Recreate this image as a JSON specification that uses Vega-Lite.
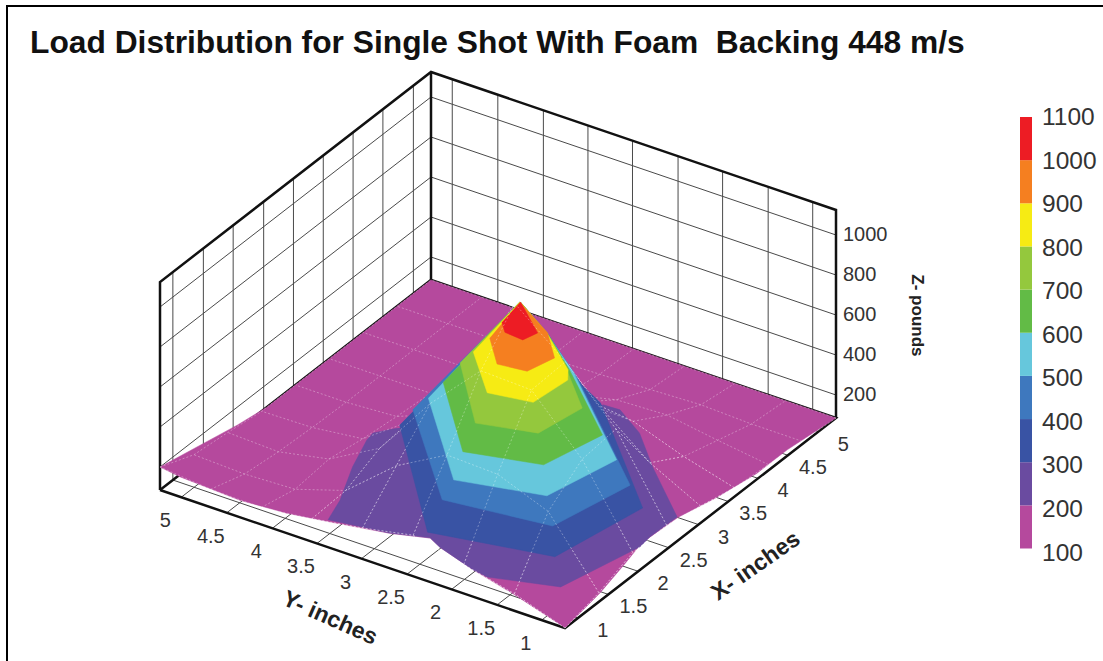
{"$schema":"https://vega.github.io/schema/vega-lite/v6.json","width":1100,"height":660,"autosize":{"type":"none"},"padding":{"left":7,"top":6,"right":0,"bottom":0},"background":"white","config":{"font":"Liberation Sans","view":{"stroke":"#000000","strokeWidth":2,"fill":"white"}},"title":{"text":"Load Distribution for Single Shot With Foam\u00a0 Backing 448 m/s","anchor":"start","frame":"group","dx":23,"dy":54,"offset":0,"fontSize":31.75,"fontWeight":"bold","font":"Liberation Sans","color":"#111111"},
"datasets":{
"surface":[
{"level":100,"i":0,"X":1,"Y":1,"Z":85},{"level":100,"i":1,"X":1.52,"Y":1,"Z":125},{"level":100,"i":2,"X":1.89,"Y":1,"Z":175},{"level":100,"i":3,"X":2.11,"Y":1,"Z":210},{"level":100,"i":4,"X":2.26,"Y":1,"Z":210},{"level":100,"i":5,"X":2.67,"Y":1,"Z":200},{"level":100,"i":6,"X":3.24,"Y":1,"Z":150},{"level":100,"i":7,"X":3.83,"Y":1,"Z":115},{"level":100,"i":8,"X":4.28,"Y":1,"Z":115},{"level":100,"i":9,"X":5,"Y":1,"Z":85},{"level":100,"i":10,"X":5,"Y":5,"Z":85},{"level":100,"i":11,"X":2.58,"Y":5,"Z":85},{"level":100,"i":12,"X":2.14,"Y":5,"Z":110},{"level":100,"i":13,"X":1,"Y":5,"Z":200},{"level":100,"i":14,"X":1,"Y":4.8,"Z":185},{"level":100,"i":15,"X":1,"Y":4.21,"Z":170},{"level":100,"i":16,"X":1,"Y":3.75,"Z":185},{"level":100,"i":17,"X":1,"Y":3.32,"Z":215},{"level":100,"i":18,"X":1,"Y":2.73,"Z":260},{"level":100,"i":19,"X":1,"Y":2.33,"Z":305},{"level":100,"i":20,"X":1,"Y":2.23,"Z":275},{"level":100,"i":21,"X":1,"Y":1.91,"Z":220},{"level":100,"i":22,"X":1,"Y":1.57,"Z":175},
{"level":200,"i":0,"X":2.58,"Y":3.72,"Z":200},{"level":200,"i":1,"X":2.41,"Y":3.84,"Z":200},{"level":200,"i":2,"X":2.29,"Y":3.82,"Z":200},{"level":200,"i":3,"X":1.87,"Y":3.68,"Z":200},{"level":200,"i":4,"X":1.37,"Y":3.47,"Z":200},{"level":200,"i":5,"X":1.06,"Y":3.38,"Z":200},{"level":200,"i":6,"X":1.16,"Y":2.84,"Z":200},{"level":200,"i":7,"X":1.28,"Y":2.52,"Z":200},{"level":200,"i":8,"X":1.2,"Y":2.37,"Z":200},{"level":200,"i":9,"X":1.05,"Y":1.94,"Z":200},{"level":200,"i":10,"X":1.02,"Y":1.78,"Z":200},{"level":200,"i":11,"X":1.22,"Y":1.19,"Z":200},{"level":200,"i":12,"X":2.11,"Y":1,"Z":200},{"level":200,"i":13,"X":2.28,"Y":1.02,"Z":200},{"level":200,"i":14,"X":2.67,"Y":1.01,"Z":200},{"level":200,"i":15,"X":3.22,"Y":1.62,"Z":200},{"level":200,"i":16,"X":3.61,"Y":2.01,"Z":200},{"level":200,"i":17,"X":3.83,"Y":2.35,"Z":200},{"level":200,"i":18,"X":3.82,"Y":2.51,"Z":200},
{"level":300,"i":0,"X":4.54,"Y":3.81,"Z":300},{"level":300,"i":1,"X":4.25,"Y":3.35,"Z":300},{"level":300,"i":2,"X":3.93,"Y":2.93,"Z":300},{"level":300,"i":3,"X":3.72,"Y":2.65,"Z":300},{"level":300,"i":4,"X":3.57,"Y":2.37,"Z":300},{"level":300,"i":5,"X":3.03,"Y":1.82,"Z":300},{"level":300,"i":6,"X":2.37,"Y":1.15,"Z":300},{"level":300,"i":7,"X":1.33,"Y":1.32,"Z":300},{"level":300,"i":8,"X":1.08,"Y":2.41,"Z":300},{"level":300,"i":9,"X":2.37,"Y":3.55,"Z":300},
{"level":400,"i":0,"X":4.28,"Y":3.64,"Z":400},{"level":400,"i":1,"X":3.99,"Y":3.18,"Z":400},{"level":400,"i":2,"X":3.53,"Y":2.57,"Z":400},{"level":400,"i":3,"X":2.35,"Y":1.26,"Z":400},{"level":400,"i":4,"X":1.46,"Y":1.43,"Z":400},{"level":400,"i":5,"X":1.31,"Y":2.42,"Z":400},{"level":400,"i":6,"X":2.37,"Y":3.42,"Z":400},
{"level":500,"i":0,"X":4.01,"Y":3.46,"Z":500},{"level":500,"i":1,"X":3.72,"Y":3,"Z":500},{"level":500,"i":2,"X":3.33,"Y":2.48,"Z":500},{"level":500,"i":3,"X":2.36,"Y":1.4,"Z":500},{"level":500,"i":4,"X":1.57,"Y":1.56,"Z":500},{"level":500,"i":5,"X":1.36,"Y":2.34,"Z":500},{"level":500,"i":6,"X":2.33,"Y":3.24,"Z":500},
{"level":600,"i":0,"X":3.75,"Y":3.28,"Z":600},{"level":600,"i":1,"X":3.46,"Y":2.82,"Z":600},{"level":600,"i":2,"X":3.07,"Y":2.34,"Z":600},{"level":600,"i":3,"X":2.36,"Y":1.54,"Z":600},{"level":600,"i":4,"X":1.7,"Y":1.68,"Z":600},{"level":600,"i":5,"X":1.51,"Y":2.35,"Z":600},{"level":600,"i":6,"X":2.34,"Y":3.1,"Z":600},
{"level":700,"i":0,"X":3.48,"Y":3.11,"Z":700},{"level":700,"i":1,"X":3.19,"Y":2.65,"Z":700},{"level":700,"i":2,"X":2.85,"Y":2.24,"Z":700},{"level":700,"i":3,"X":2.36,"Y":1.74,"Z":700},{"level":700,"i":4,"X":1.83,"Y":1.82,"Z":700},{"level":700,"i":5,"X":1.68,"Y":2.34,"Z":700},{"level":700,"i":6,"X":2.41,"Y":2.98,"Z":700},
{"level":800,"i":0,"X":3.22,"Y":2.93,"Z":800},{"level":800,"i":1,"X":2.93,"Y":2.47,"Z":800},{"level":800,"i":2,"X":2.54,"Y":2,"Z":800},{"level":800,"i":3,"X":2.4,"Y":1.91,"Z":800},{"level":800,"i":4,"X":1.95,"Y":1.95,"Z":800},{"level":800,"i":5,"X":1.87,"Y":2.35,"Z":800},{"level":800,"i":6,"X":2.35,"Y":2.81,"Z":800},
{"level":900,"i":0,"X":2.95,"Y":2.75,"Z":900},{"level":900,"i":1,"X":2.67,"Y":2.29,"Z":900},{"level":900,"i":2,"X":2.37,"Y":2.02,"Z":900},{"level":900,"i":3,"X":2.07,"Y":2.09,"Z":900},{"level":900,"i":4,"X":2.03,"Y":2.36,"Z":900},{"level":900,"i":5,"X":2.34,"Y":2.64,"Z":900},
{"level":1000,"i":0,"X":2.69,"Y":2.57,"Z":1000},{"level":1000,"i":1,"X":2.36,"Y":2.18,"Z":1000},{"level":1000,"i":2,"X":2.2,"Y":2.22,"Z":1000},{"level":1000,"i":3,"X":2.22,"Y":2.41,"Z":1000},{"level":1000,"i":4,"X":2.34,"Y":2.52,"Z":1000}
],
"mesh":[
{"X":1,"Y":1,"Z":85},{"X":1,"Y":1.5,"Z":170},{"X":1,"Y":2,"Z":230},{"X":1,"Y":2.5,"Z":290},{"X":1,"Y":3,"Z":240},{"X":1,"Y":3.5,"Z":200},{"X":1,"Y":4,"Z":170},{"X":1,"Y":4.5,"Z":175},{"X":1,"Y":5,"Z":200},
{"X":1.5,"Y":1,"Z":130},{"X":1.5,"Y":1.5,"Z":450},{"X":1.5,"Y":2,"Z":550},{"X":1.5,"Y":2.5,"Z":560},{"X":1.5,"Y":3,"Z":420},{"X":1.5,"Y":3.5,"Z":210},{"X":1.5,"Y":4,"Z":130},{"X":1.5,"Y":4.5,"Z":120},{"X":1.5,"Y":5,"Z":130},
{"X":2,"Y":1,"Z":200},{"X":2,"Y":1.5,"Z":580},{"X":2,"Y":2,"Z":840},{"X":2,"Y":2.5,"Z":850},{"X":2,"Y":3,"Z":600},{"X":2,"Y":3.5,"Z":290},{"X":2,"Y":4,"Z":150},{"X":2,"Y":4.5,"Z":100},{"X":2,"Y":5,"Z":110},
{"X":2.5,"Y":1,"Z":205},{"X":2.5,"Y":1.5,"Z":600},{"X":2.5,"Y":2,"Z":850},{"X":2.5,"Y":2.5,"Z":1055},{"X":2.5,"Y":3,"Z":600},{"X":2.5,"Y":3.5,"Z":300},{"X":2.5,"Y":4,"Z":120},{"X":2.5,"Y":4.5,"Z":90},{"X":2.5,"Y":5,"Z":85},
{"X":3,"Y":1,"Z":170},{"X":3,"Y":1.5,"Z":300},{"X":3,"Y":2,"Z":500},{"X":3,"Y":2.5,"Z":540},{"X":3,"Y":3,"Z":320},{"X":3,"Y":3.5,"Z":200},{"X":3,"Y":4,"Z":100},{"X":3,"Y":4.5,"Z":85},{"X":3,"Y":5,"Z":85},
{"X":3.5,"Y":1,"Z":130},{"X":3.5,"Y":1.5,"Z":200},{"X":3.5,"Y":2,"Z":290},{"X":3.5,"Y":2.5,"Z":300},{"X":3.5,"Y":3,"Z":200},{"X":3.5,"Y":3.5,"Z":110},{"X":3.5,"Y":4,"Z":85},{"X":3.5,"Y":4.5,"Z":85},{"X":3.5,"Y":5,"Z":85},
{"X":4,"Y":1,"Z":115},{"X":4,"Y":1.5,"Z":150},{"X":4,"Y":2,"Z":190},{"X":4,"Y":2.5,"Z":180},{"X":4,"Y":3,"Z":120},{"X":4,"Y":3.5,"Z":90},{"X":4,"Y":4,"Z":85},{"X":4,"Y":4.5,"Z":85},{"X":4,"Y":5,"Z":85},
{"X":4.5,"Y":1,"Z":100},{"X":4.5,"Y":1.5,"Z":100},{"X":4.5,"Y":2,"Z":110},{"X":4.5,"Y":2.5,"Z":100},{"X":4.5,"Y":3,"Z":90},{"X":4.5,"Y":3.5,"Z":85},{"X":4.5,"Y":4,"Z":85},{"X":4.5,"Y":4.5,"Z":85},{"X":4.5,"Y":5,"Z":85},
{"X":5,"Y":1,"Z":85},{"X":5,"Y":1.5,"Z":85},{"X":5,"Y":2,"Z":85},{"X":5,"Y":2.5,"Z":85},{"X":5,"Y":3,"Z":85},{"X":5,"Y":3.5,"Z":85},{"X":5,"Y":4,"Z":85},{"X":5,"Y":4.5,"Z":85},{"X":5,"Y":5,"Z":85}
],
"grid":[
{"id":"a1","i":0,"X":1.19,"Y":5,"Z":85},{"id":"a1","i":1,"X":1.19,"Y":5,"Z":1125},{"id":"a2","i":0,"X":1.64,"Y":5,"Z":85},{"id":"a2","i":1,"X":1.64,"Y":5,"Z":1125},{"id":"a3","i":0,"X":2.08,"Y":5,"Z":85},{"id":"a3","i":1,"X":2.08,"Y":5,"Z":1125},{"id":"a4","i":0,"X":2.53,"Y":5,"Z":85},{"id":"a4","i":1,"X":2.53,"Y":5,"Z":1125},{"id":"a5","i":0,"X":2.97,"Y":5,"Z":85},{"id":"a5","i":1,"X":2.97,"Y":5,"Z":1125},{"id":"a6","i":0,"X":3.41,"Y":5,"Z":85},{"id":"a6","i":1,"X":3.41,"Y":5,"Z":1125},{"id":"a7","i":0,"X":3.85,"Y":5,"Z":85},{"id":"a7","i":1,"X":3.85,"Y":5,"Z":1125},{"id":"a8","i":0,"X":4.29,"Y":5,"Z":85},{"id":"a8","i":1,"X":4.29,"Y":5,"Z":1125},{"id":"a9","i":0,"X":4.74,"Y":5,"Z":85},{"id":"a9","i":1,"X":4.74,"Y":5,"Z":1125},
{"id":"b1","i":0,"X":5,"Y":1.23,"Z":85},{"id":"b1","i":1,"X":5,"Y":1.23,"Z":1125},{"id":"b2","i":0,"X":5,"Y":1.67,"Z":85},{"id":"b2","i":1,"X":5,"Y":1.67,"Z":1125},{"id":"b3","i":0,"X":5,"Y":2.12,"Z":85},{"id":"b3","i":1,"X":5,"Y":2.12,"Z":1125},{"id":"b4","i":0,"X":5,"Y":2.56,"Z":85},{"id":"b4","i":1,"X":5,"Y":2.56,"Z":1125},{"id":"b5","i":0,"X":5,"Y":3.01,"Z":85},{"id":"b5","i":1,"X":5,"Y":3.01,"Z":1125},{"id":"b6","i":0,"X":5,"Y":3.45,"Z":85},{"id":"b6","i":1,"X":5,"Y":3.45,"Z":1125},{"id":"b7","i":0,"X":5,"Y":3.89,"Z":85},{"id":"b7","i":1,"X":5,"Y":3.89,"Z":1125},{"id":"b8","i":0,"X":5,"Y":4.34,"Z":85},{"id":"b8","i":1,"X":5,"Y":4.34,"Z":1125},{"id":"b9","i":0,"X":5,"Y":4.79,"Z":85},{"id":"b9","i":1,"X":5,"Y":4.79,"Z":1125},
{"id":"c1","i":0,"X":1,"Y":5,"Z":200},{"id":"c1","i":1,"X":5,"Y":5,"Z":200},{"id":"c1","i":2,"X":5,"Y":1,"Z":200},{"id":"c2","i":0,"X":1,"Y":5,"Z":400},{"id":"c2","i":1,"X":5,"Y":5,"Z":400},{"id":"c2","i":2,"X":5,"Y":1,"Z":400},{"id":"c3","i":0,"X":1,"Y":5,"Z":600},{"id":"c3","i":1,"X":5,"Y":5,"Z":600},{"id":"c3","i":2,"X":5,"Y":1,"Z":600},{"id":"c4","i":0,"X":1,"Y":5,"Z":800},{"id":"c4","i":1,"X":5,"Y":5,"Z":800},{"id":"c4","i":2,"X":5,"Y":1,"Z":800},{"id":"c5","i":0,"X":1,"Y":5,"Z":1000},{"id":"c5","i":1,"X":5,"Y":5,"Z":1000},{"id":"c5","i":2,"X":5,"Y":1,"Z":1000},
{"id":"d1","i":0,"X":1.19,"Y":1,"Z":85},{"id":"d1","i":1,"X":1.19,"Y":5,"Z":85},{"id":"d2","i":0,"X":1.64,"Y":1,"Z":85},{"id":"d2","i":1,"X":1.64,"Y":5,"Z":85},{"id":"d3","i":0,"X":2.08,"Y":1,"Z":85},{"id":"d3","i":1,"X":2.08,"Y":5,"Z":85},{"id":"d4","i":0,"X":2.53,"Y":1,"Z":85},{"id":"d4","i":1,"X":2.53,"Y":5,"Z":85},{"id":"d5","i":0,"X":2.97,"Y":1,"Z":85},{"id":"d5","i":1,"X":2.97,"Y":5,"Z":85},{"id":"d6","i":0,"X":3.41,"Y":1,"Z":85},{"id":"d6","i":1,"X":3.41,"Y":5,"Z":85},{"id":"d7","i":0,"X":3.85,"Y":1,"Z":85},{"id":"d7","i":1,"X":3.85,"Y":5,"Z":85},{"id":"d8","i":0,"X":4.29,"Y":1,"Z":85},{"id":"d8","i":1,"X":4.29,"Y":5,"Z":85},{"id":"d9","i":0,"X":4.74,"Y":1,"Z":85},{"id":"d9","i":1,"X":4.74,"Y":5,"Z":85},
{"id":"e1","i":0,"X":1,"Y":1.23,"Z":85},{"id":"e1","i":1,"X":5,"Y":1.23,"Z":85},{"id":"e2","i":0,"X":1,"Y":1.67,"Z":85},{"id":"e2","i":1,"X":5,"Y":1.67,"Z":85},{"id":"e3","i":0,"X":1,"Y":2.12,"Z":85},{"id":"e3","i":1,"X":5,"Y":2.12,"Z":85},{"id":"e4","i":0,"X":1,"Y":2.56,"Z":85},{"id":"e4","i":1,"X":5,"Y":2.56,"Z":85},{"id":"e5","i":0,"X":1,"Y":3.01,"Z":85},{"id":"e5","i":1,"X":5,"Y":3.01,"Z":85},{"id":"e6","i":0,"X":1,"Y":3.45,"Z":85},{"id":"e6","i":1,"X":5,"Y":3.45,"Z":85},{"id":"e7","i":0,"X":1,"Y":3.89,"Z":85},{"id":"e7","i":1,"X":5,"Y":3.89,"Z":85},{"id":"e8","i":0,"X":1,"Y":4.34,"Z":85},{"id":"e8","i":1,"X":5,"Y":4.34,"Z":85},{"id":"e9","i":0,"X":1,"Y":4.79,"Z":85},{"id":"e9","i":1,"X":5,"Y":4.79,"Z":85}
],
"frame":[
{"id":"f1","i":0,"X":1,"Y":5,"Z":85},{"id":"f1","i":1,"X":1,"Y":5,"Z":1125},{"id":"f1","i":2,"X":5,"Y":5,"Z":1125},{"id":"f1","i":3,"X":5,"Y":1,"Z":1125},{"id":"f1","i":4,"X":5,"Y":1,"Z":85},
{"id":"f2","i":0,"X":5,"Y":5,"Z":85},{"id":"f2","i":1,"X":5,"Y":5,"Z":1125},
{"id":"f3","i":0,"X":1,"Y":5,"Z":85},{"id":"f3","i":1,"X":1,"Y":1,"Z":85},{"id":"f3","i":2,"X":5,"Y":1,"Z":85},{"id":"f3","i":3,"X":5,"Y":5,"Z":85},{"id":"f3","i":4,"X":1,"Y":5,"Z":85}
],
"zticks":[{"label":"200","X":5,"Y":1,"Z":200},{"label":"400","X":5,"Y":1,"Z":400},{"label":"600","X":5,"Y":1,"Z":600},{"label":"800","X":5,"Y":1,"Z":800},{"label":"1000","X":5,"Y":1,"Z":1000}],
"yticks":[{"label":"1","X":1,"Y":1.23,"Z":85},{"label":"1.5","X":1,"Y":1.67,"Z":85},{"label":"2","X":1,"Y":2.12,"Z":85},{"label":"2.5","X":1,"Y":2.56,"Z":85},{"label":"3","X":1,"Y":3.01,"Z":85},{"label":"3.5","X":1,"Y":3.45,"Z":85},{"label":"4","X":1,"Y":3.89,"Z":85},{"label":"4.5","X":1,"Y":4.34,"Z":85},{"label":"5","X":1,"Y":4.79,"Z":85}],
"xticks":[{"label":"1","X":1.19,"Y":1,"Z":85},{"label":"1.5","X":1.64,"Y":1,"Z":85},{"label":"2","X":2.08,"Y":1,"Z":85},{"label":"2.5","X":2.53,"Y":1,"Z":85},{"label":"3","X":2.97,"Y":1,"Z":85},{"label":"3.5","X":3.41,"Y":1,"Z":85},{"label":"4","X":3.85,"Y":1,"Z":85},{"label":"4.5","X":4.29,"Y":1,"Z":85},{"label":"5","X":4.74,"Y":1,"Z":85}],
"legend":[{"level":100,"hi":200},{"level":200,"hi":300},{"level":300,"hi":400},{"level":400,"hi":500},{"level":500,"hi":600},{"level":600,"hi":700},{"level":700,"hi":800},{"level":800,"hi":900},{"level":900,"hi":1000},{"level":1000,"hi":1100}],
"legendlabels":[{"v":100},{"v":200},{"v":300},{"v":400},{"v":500},{"v":600},{"v":700},{"v":800},{"v":900},{"v":1000},{"v":1100}]
},
"encoding":{"x":{"field":"sx","type":"quantitative","axis":null,"scale":{"domain":[7,1107],"zero":false,"nice":false}},"y":{"field":"sy","type":"quantitative","axis":null,"scale":{"domain":[6,666],"reverse":true,"zero":false,"nice":false}}},
"layer":[
{"data":{"name":"grid"},"transform":[{"calculate":"565+67.75*(datum.X-1)-101.25*(datum.Y-1)","as":"sx"},{"calculate":"628-52.5*(datum.X-1)-34.5*(datum.Y-1)-0.2*(datum.Z-85)","as":"sy"}],"mark":{"type":"line","stroke":"#4a4a4a","strokeWidth":1},"encoding":{"detail":{"field":"id","type":"nominal"},"order":{"field":"i","type":"quantitative"}}},
{"data":{"name":"frame"},"transform":[{"calculate":"565+67.75*(datum.X-1)-101.25*(datum.Y-1)","as":"sx"},{"calculate":"628-52.5*(datum.X-1)-34.5*(datum.Y-1)-0.2*(datum.Z-85)","as":"sy"}],"mark":{"type":"line","stroke":"#111111","strokeWidth":2.5},"encoding":{"detail":{"field":"id","type":"nominal"},"order":{"field":"i","type":"quantitative"}}},
{"data":{"name":"surface"},"transform":[{"filter":"datum.level<=200"},{"calculate":"565+67.75*(datum.X-1)-101.25*(datum.Y-1)","as":"sx"},{"calculate":"628-52.5*(datum.X-1)-34.5*(datum.Y-1)-0.2*(datum.Z-85)","as":"sy"}],"mark":{"type":"line","strokeWidth":0.5},"encoding":{"detail":{"field":"level","type":"ordinal"},"order":{"field":"i","type":"quantitative"},"fill":{"field":"level","type":"ordinal","legend":null,"scale":{"domain":[100,200,300,400,500,600,700,800,900,1000],"range":["#B5499D","#6A4BA0","#3953A4","#3E78BE","#66C7DC","#62BB46","#94C83D","#F6EB14","#F57F20","#ED1C24"]}},"stroke":{"field":"level","type":"ordinal","legend":null,"scale":{"domain":[100,200,300,400,500,600,700,800,900,1000],"range":["#B5499D","#6A4BA0","#3953A4","#3E78BE","#66C7DC","#62BB46","#94C83D","#F6EB14","#F57F20","#ED1C24"]}}}},
{"data":{"name":"mesh"},"transform":[{"calculate":"565+67.75*(datum.X-1)-101.25*(datum.Y-1)","as":"sx"},{"calculate":"628-52.5*(datum.X-1)-34.5*(datum.Y-1)-0.2*(datum.Z-85)","as":"sy"}],"mark":{"type":"line","stroke":"#ffffff","strokeWidth":0.8,"strokeOpacity":0.4,"strokeDash":[2,2]},"encoding":{"detail":{"field":"X","type":"nominal"},"order":{"field":"Y","type":"quantitative"}}},
{"data":{"name":"mesh"},"transform":[{"calculate":"565+67.75*(datum.X-1)-101.25*(datum.Y-1)","as":"sx"},{"calculate":"628-52.5*(datum.X-1)-34.5*(datum.Y-1)-0.2*(datum.Z-85)","as":"sy"}],"mark":{"type":"line","stroke":"#ffffff","strokeWidth":0.8,"strokeOpacity":0.4,"strokeDash":[2,2]},"encoding":{"detail":{"field":"Y","type":"nominal"},"order":{"field":"X","type":"quantitative"}}},
{"data":{"name":"surface"},"transform":[{"filter":"datum.level>200"},{"calculate":"565+67.75*(datum.X-1)-101.25*(datum.Y-1)","as":"sx"},{"calculate":"628-52.5*(datum.X-1)-34.5*(datum.Y-1)-0.2*(datum.Z-85)","as":"sy"}],"mark":{"type":"line","strokeWidth":0.5},"encoding":{"detail":{"field":"level","type":"ordinal"},"order":{"field":"i","type":"quantitative"},"fill":{"field":"level","type":"ordinal","legend":null,"scale":{"domain":[100,200,300,400,500,600,700,800,900,1000],"range":["#B5499D","#6A4BA0","#3953A4","#3E78BE","#66C7DC","#62BB46","#94C83D","#F6EB14","#F57F20","#ED1C24"]}},"stroke":{"field":"level","type":"ordinal","legend":null,"scale":{"domain":[100,200,300,400,500,600,700,800,900,1000],"range":["#B5499D","#6A4BA0","#3953A4","#3E78BE","#66C7DC","#62BB46","#94C83D","#F6EB14","#F57F20","#ED1C24"]}}}},
{"data":{"name":"mesh"},"transform":[{"filter":"(datum.X<=2.5&&datum.Y<=2.5)||(datum.X<=2&&datum.Y<=3.5)||(datum.Y<=2&&datum.X<=3.5)"},{"calculate":"565+67.75*(datum.X-1)-101.25*(datum.Y-1)","as":"sx"},{"calculate":"628-52.5*(datum.X-1)-34.5*(datum.Y-1)-0.2*(datum.Z-85)","as":"sy"}],"mark":{"type":"line","stroke":"#ffffff","strokeWidth":0.8,"strokeOpacity":0.4,"strokeDash":[2,2]},"encoding":{"detail":{"field":"X","type":"nominal"},"order":{"field":"Y","type":"quantitative"}}},
{"data":{"name":"mesh"},"transform":[{"filter":"(datum.X<=2.5&&datum.Y<=2.5)||(datum.X<=2&&datum.Y<=3.5)||(datum.Y<=2&&datum.X<=3.5)"},{"calculate":"565+67.75*(datum.X-1)-101.25*(datum.Y-1)","as":"sx"},{"calculate":"628-52.5*(datum.X-1)-34.5*(datum.Y-1)-0.2*(datum.Z-85)","as":"sy"}],"mark":{"type":"line","stroke":"#ffffff","strokeWidth":0.8,"strokeOpacity":0.4,"strokeDash":[2,2]},"encoding":{"detail":{"field":"Y","type":"nominal"},"order":{"field":"X","type":"quantitative"}}},
{"data":{"name":"zticks"},"transform":[{"calculate":"565+67.75*(datum.X-1)-101.25*(datum.Y-1)","as":"sx"},{"calculate":"628-52.5*(datum.X-1)-34.5*(datum.Y-1)-0.2*(datum.Z-85)","as":"sy"}],"mark":{"type":"text","align":"left","baseline":"middle","dx":7,"fontSize":20,"font":"Liberation Sans","color":"#333333"},"encoding":{"text":{"field":"label","type":"nominal"}}},
{"data":{"name":"yticks"},"transform":[{"calculate":"565+67.75*(datum.X-1)-101.25*(datum.Y-1)","as":"sx"},{"calculate":"628-52.5*(datum.X-1)-34.5*(datum.Y-1)-0.2*(datum.Z-85)","as":"sy"}],"mark":{"type":"text","align":"center","baseline":"middle","dx":-16,"dy":24,"fontSize":20,"font":"Liberation Sans","color":"#333333"},"encoding":{"text":{"field":"label","type":"nominal"}}},
{"data":{"name":"xticks"},"transform":[{"calculate":"565+67.75*(datum.X-1)-101.25*(datum.Y-1)","as":"sx"},{"calculate":"628-52.5*(datum.X-1)-34.5*(datum.Y-1)-0.2*(datum.Z-85)","as":"sy"}],"mark":{"type":"text","align":"center","baseline":"middle","dx":25,"dy":13,"fontSize":20,"font":"Liberation Sans","color":"#333333"},"encoding":{"text":{"field":"label","type":"nominal"}}},
{"data":{"values":[{"label":"Y- inches","X":0.07,"Y":2.7,"Z":85}]},"transform":[{"calculate":"565+67.75*(datum.X-1)-101.25*(datum.Y-1)","as":"sx"},{"calculate":"628-52.5*(datum.X-1)-34.5*(datum.Y-1)-0.2*(datum.Z-85)","as":"sy"}],"mark":{"type":"text","angle":24,"align":"center","baseline":"middle","fontSize":23,"fontWeight":"bold","font":"Liberation Sans","color":"#222222"},"encoding":{"text":{"field":"label","type":"nominal"}}},
{"data":{"values":[{"label":"X- inches","X":2.68,"Y":0.24,"Z":85}]},"transform":[{"calculate":"565+67.75*(datum.X-1)-101.25*(datum.Y-1)","as":"sx"},{"calculate":"628-52.5*(datum.X-1)-34.5*(datum.Y-1)-0.2*(datum.Z-85)","as":"sy"}],"mark":{"type":"text","angle":-35,"align":"center","baseline":"middle","fontSize":23,"fontWeight":"bold","font":"Liberation Sans","color":"#222222"},"encoding":{"text":{"field":"label","type":"nominal"}}},
{"data":{"values":[{"label":"Z- pounds","X":5.36,"Y":0.44,"Z":600}]},"transform":[{"calculate":"565+67.75*(datum.X-1)-101.25*(datum.Y-1)","as":"sx"},{"calculate":"628-52.5*(datum.X-1)-34.5*(datum.Y-1)-0.2*(datum.Z-85)","as":"sy"}],"mark":{"type":"text","angle":90,"align":"center","baseline":"middle","fontSize":17,"fontWeight":"bold","font":"Liberation Sans","color":"#222222"},"encoding":{"text":{"field":"label","type":"nominal"}}},
{"data":{"name":"legend"},"transform":[{"calculate":"1020","as":"sx"},{"calculate":"1032","as":"sx2"},{"calculate":"548.5-(datum.level-100)*0.4315","as":"sy"},{"calculate":"548.5-(datum.hi-100)*0.4315","as":"sy2"}],"mark":{"type":"rect"},"encoding":{"x2":{"field":"sx2"},"y2":{"field":"sy2"},"fill":{"field":"level","type":"ordinal","legend":null,"scale":{"domain":[100,200,300,400,500,600,700,800,900,1000],"range":["#B5499D","#6A4BA0","#3953A4","#3E78BE","#66C7DC","#62BB46","#94C83D","#F6EB14","#F57F20","#ED1C24"]}}}},
{"data":{"name":"legendlabels"},"transform":[{"calculate":"1042","as":"sx"},{"calculate":"553.5-(datum.v-100)*0.4355","as":"sy"}],"mark":{"type":"text","align":"left","baseline":"middle","fontSize":24.5,"font":"Liberation Sans","color":"#333333"},"encoding":{"text":{"field":"v","type":"nominal"}}}
]}
